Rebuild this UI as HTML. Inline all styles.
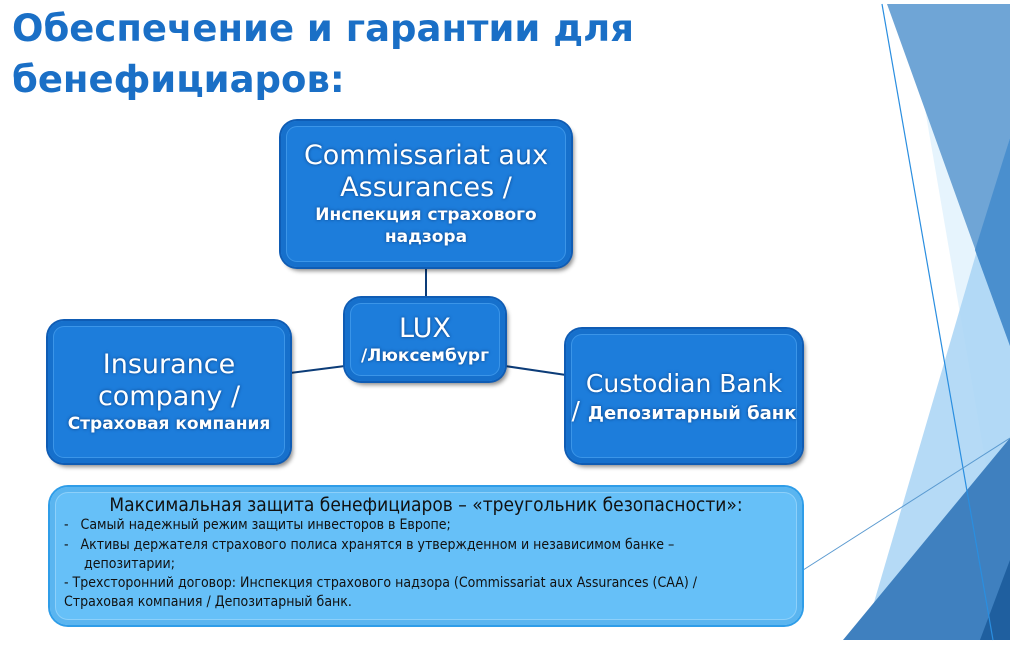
<!DOCTYPE html>
<html><head><meta charset="utf-8"><style>
body{margin:0;width:1010px;height:646px;background:#fff;position:relative;overflow:hidden;font-family:"DejaVu Sans","Liberation Sans",sans-serif}
.t{position:absolute;left:12px;top:3px;color:#1a6fc6;font-weight:bold;font-size:37px;line-height:51px;font-family:"DejaVu Sans",sans-serif}
.b{position:absolute;background:#1d7ddb;border-radius:16px;box-shadow:0 0 0 2px #0f5cb4,3px 4px 4px rgba(0,0,0,0.45), inset 0 0 0 5px #1670cc, inset 0 0 0 6px #3b95e8;color:#fff;text-align:center;display:flex;flex-direction:column;justify-content:center;text-shadow:0 0 3px #0a3f80}
.big{font-size:27px;line-height:32px}
.sm{font-size:17px;line-height:22px;font-weight:bold}
.note{position:absolute;left:50px;top:487px;width:752px;height:138px;background:#66c0f8;border-radius:18px;box-shadow:0 0 0 2px #2f9de8,inset 0 0 0 5px #5ab5f0,inset 0 0 0 6px #8dd0fa;font-size:14px;line-height:19px;color:#111;font-family:"DejaVu Sans Condensed","DejaVu Sans",sans-serif}
</style></head><body>
<svg width="1010" height="646" style="position:absolute;left:0;top:0">
<polygon points="907,4 1010,4 1010,346 1010,471 987,471" fill="#e0f1fd" opacity="0.8"/>
<polygon points="887,4 1010,346 1010,4" fill="#6fa5d6"/>
<polygon points="1010,138 863,640 1010,640" fill="#a8d3f5" opacity="0.85"/>
<polygon points="1010,138 1010,346 975,250" fill="#4a8fce"/>
<polygon points="1010,438 843,640 1010,640" fill="#3f80bf"/>
<polygon points="1010,560 980,640 1010,640" fill="#1f5f9f"/>
<line x1="882" y1="4" x2="993" y2="640" stroke="#2a8ee0" stroke-width="1.2"/>
<line x1="800" y1="572" x2="1010" y2="438" stroke="#5a9ad0" stroke-width="1"/>
<line x1="426" y1="268" x2="426" y2="298" stroke="#0c3c78" stroke-width="2"/>
<line x1="290" y1="373" x2="345" y2="366" stroke="#0c3c78" stroke-width="2"/>
<line x1="505" y1="366" x2="566" y2="375" stroke="#0c3c78" stroke-width="2"/>
</svg>
<div class="t">Обеспечение и гарантии для<br>бенефициаров:</div>
<div class="b" style="left:281px;top:121px;width:290px;height:146px"><div class="big">Commissariat aux<br>Assurances /</div><div class="sm">Инспекция страхового<br>надзора</div></div>
<div class="b" style="left:345px;top:298px;width:160px;height:83px"><div class="big">LUX</div><div class="sm">/Люксембург</div></div>
<div class="b" style="left:48px;top:321px;width:242px;height:142px"><div class="big">Insurance<br>company /</div><div class="sm">Страховая компания</div></div>
<div class="b" style="left:566px;top:329px;width:236px;height:134px"><div class="big" style="font-size:25px">Custodian Bank</div><div class="sm" style="font-size:18px"><span style="font-size:25px;font-weight:normal">/ </span>Депозитарный банк</div></div>
<div class="note">
<div style="text-align:center;font-size:19px;margin-top:7px;line-height:22px">Максимальная защита бенефициаров – «треугольник безопасности»:</div>
<div style="padding-left:14px">-&nbsp;&nbsp; Самый надежный режим защиты инвесторов в Европе;</div>
<div style="padding-left:14px;margin-top:1px">-&nbsp;&nbsp; Активы держателя страхового полиса хранятся в утвержденном и независимом банке –<br><span style="padding-left:20px">депозитарии;</span></div>
<div style="padding-left:14px">- Трехсторонний договор: Инспекция страхового надзора (Commissariat aux Assurances (CAA) /<br>Страховая компания / Депозитарный банк.</div>
</div>
</body></html>
